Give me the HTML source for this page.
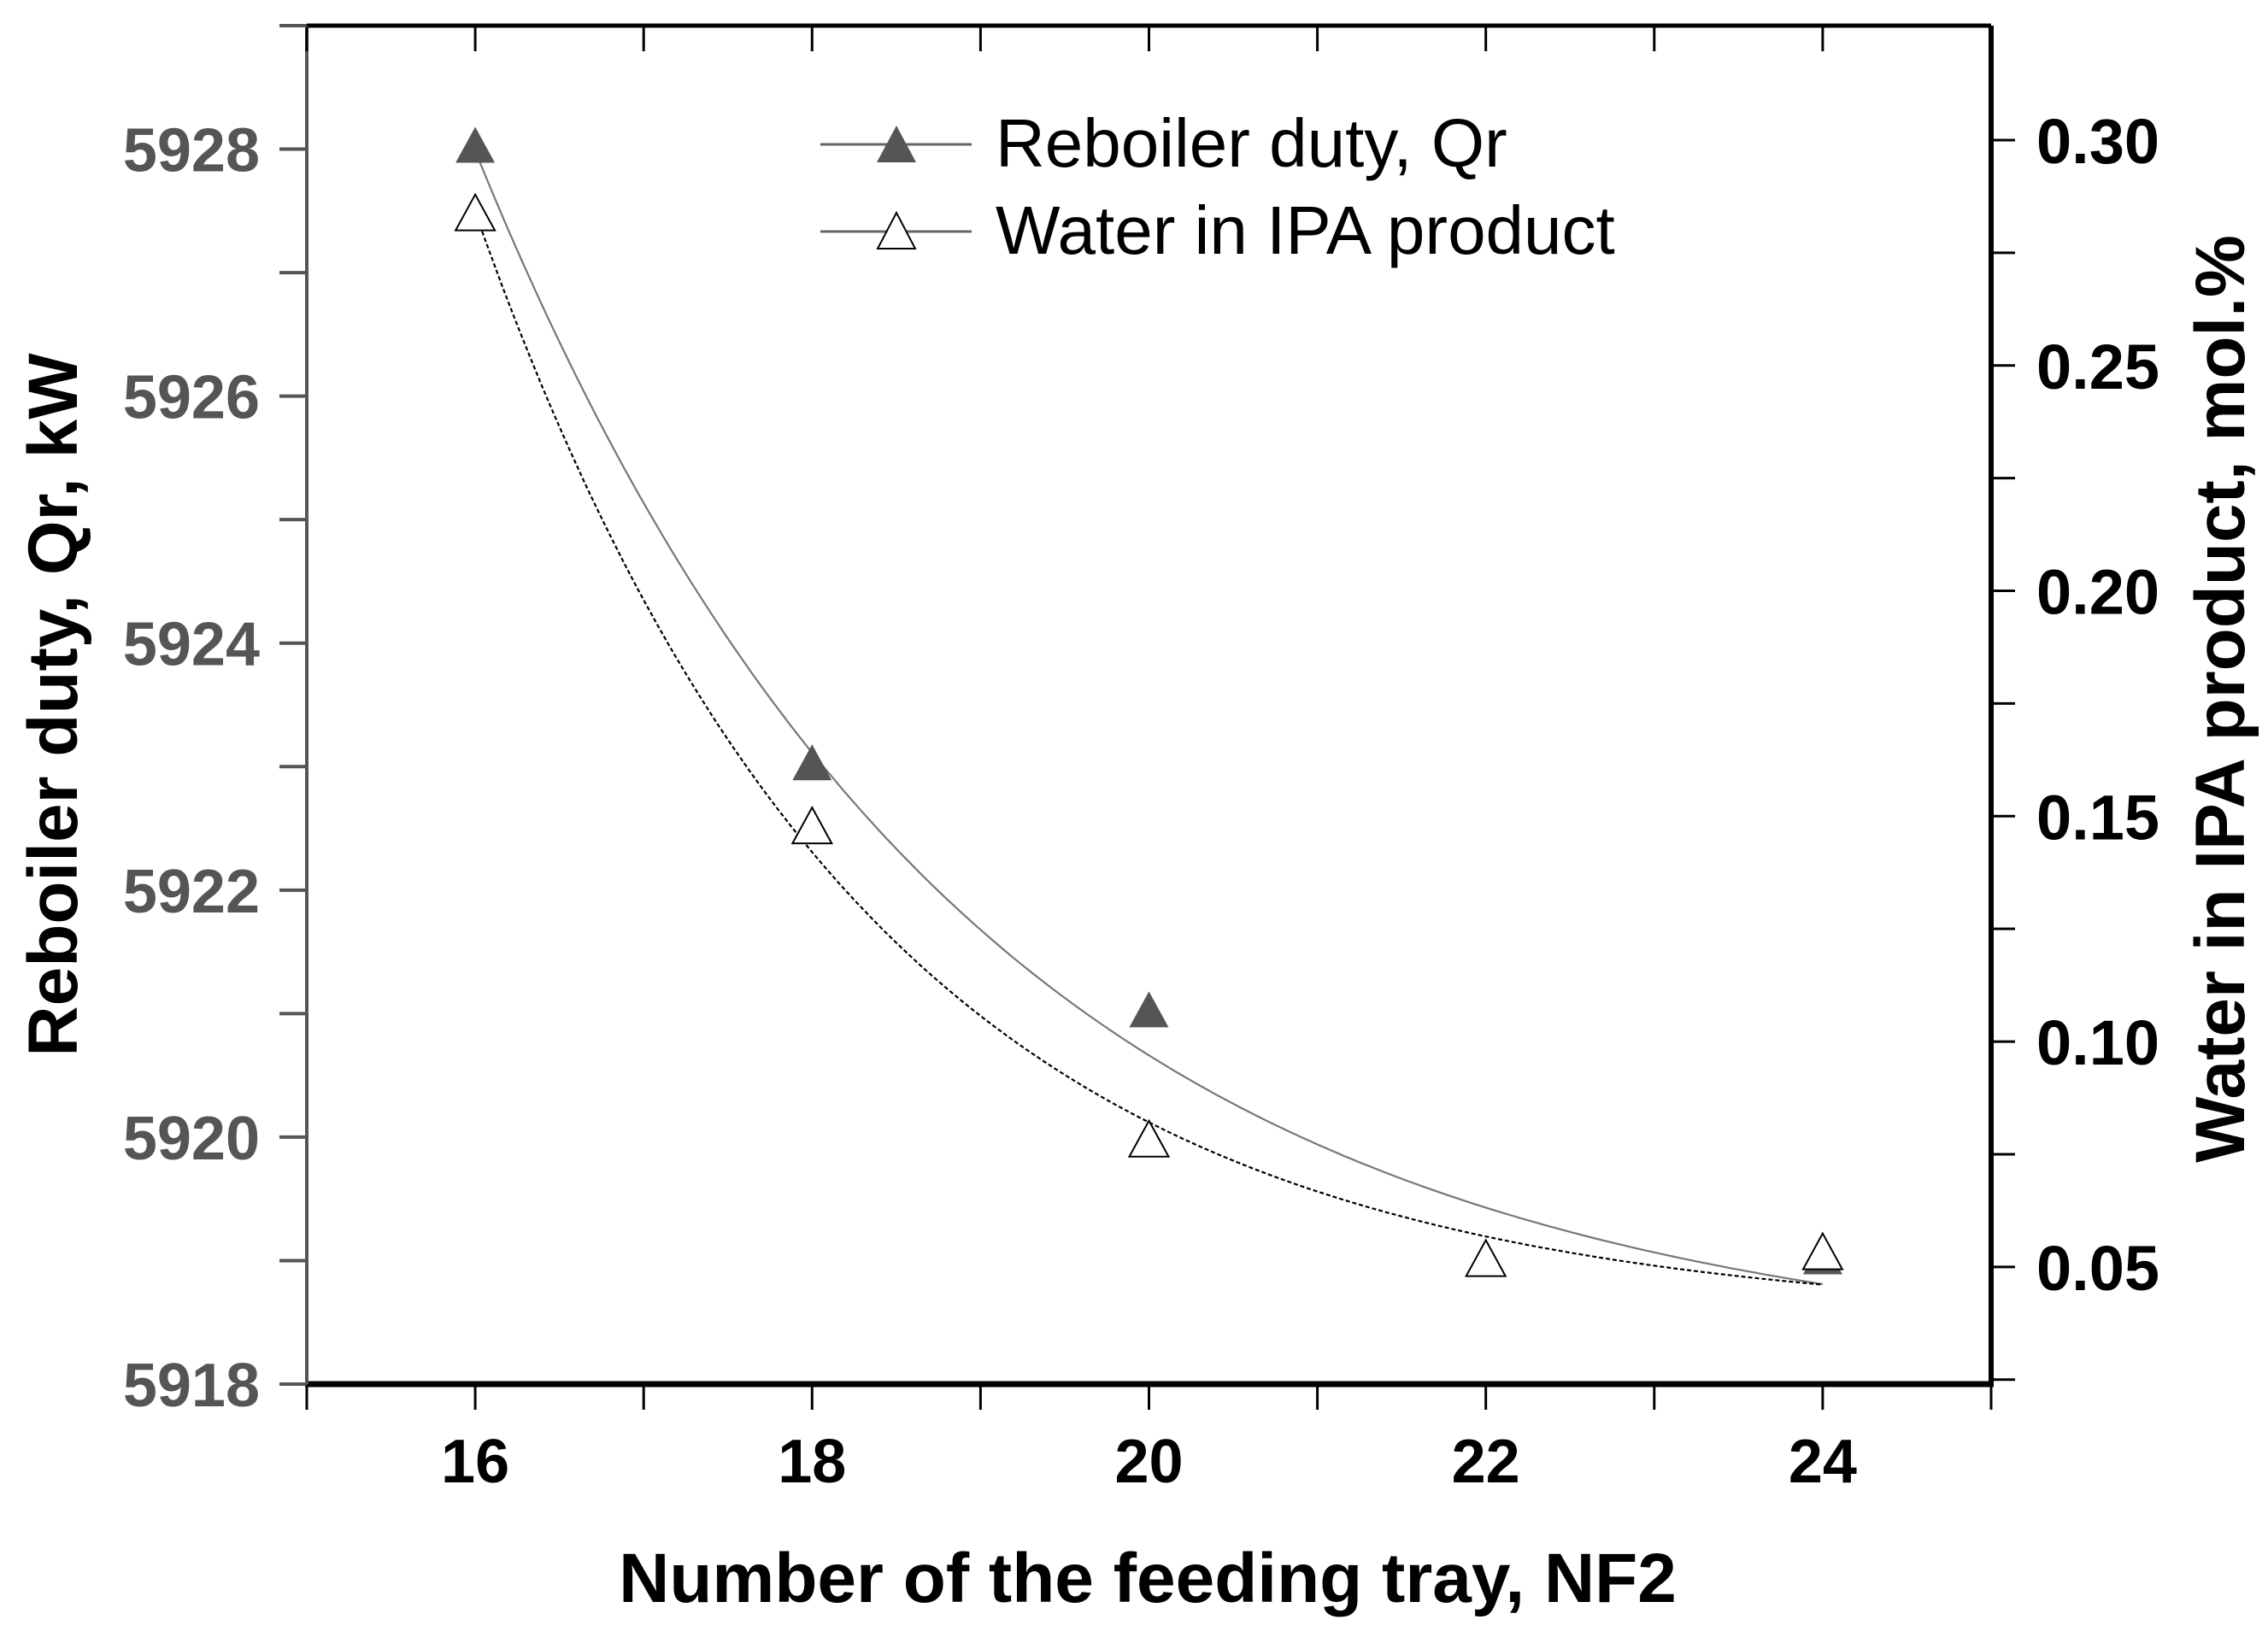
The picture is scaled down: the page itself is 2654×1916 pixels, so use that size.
<!DOCTYPE html>
<html><head><meta charset="utf-8"><style>
html,body{margin:0;padding:0;background:#fff;}
svg{display:block;font-family:"Liberation Sans",Arial,sans-serif;}
</style></head><body>
<svg id="chart" width="2654" height="1916" viewBox="0 0 2654 1916" xmlns="http://www.w3.org/2000/svg">
<g id="axes"></g>
<g id="fits"></g>
<g id="marks"></g>
<g id="legend">
  <line x1="960" y1="169" x2="1137" y2="169" stroke="#666" stroke-width="3"/>
  <polygon points="1049,147 1026,190 1072,190" fill="#555"/>
  <text x="1165" y="195" font-size="80" fill="#000">Reboiler duty, Qr</text>
  <line x1="960" y1="271" x2="1137" y2="271" stroke="#666" stroke-width="3"/>
  <polygon points="1049,249 1027,291 1071,291" fill="#fff" stroke="#000" stroke-width="2"/>
  <text x="1165" y="297" font-size="80" fill="#000">Water in IPA product</text>
</g>
<text x="0" y="0" transform="translate(90,825) rotate(-90)" text-anchor="middle" font-size="82" font-weight="bold" fill="#000">Reboiler duty, Qr, kW</text>
<text x="0" y="0" transform="translate(2626,818) rotate(-90)" text-anchor="middle" font-size="82" font-weight="bold" fill="#000">Water in IPA product, mol.%</text>
<text x="1343" y="1875" text-anchor="middle" font-size="82" font-weight="bold" fill="#000">Number of the feeding tray, NF2</text>
</svg>
<script>
const trays = [16, 18, 20, 22, 24];
const reboilerDuty = [5928, 5923, 5921, 5919, 5919];
const waterContent = [0.283, 0.147, 0.0775, 0.051, 0.0525];
const xTickLabels = ["16", "18", "20", "22", "24"];
const leftTickLabels = ["5918", "5920", "5922", "5924", "5926", "5928"];
const rightTickLabels = ["0.05", "0.10", "0.15", "0.20", "0.25", "0.30"];

const NS = "http://www.w3.org/2000/svg";
const L = 359, R = 2330, T = 30, B = 1620;
const xMin = 15, xMax = 25, yLMin = 5918, yLMax = 5929, yRMin = 0.024, yRMax = 0.3254;
const sx = v => L + (v - xMin) / (xMax - xMin) * (R - L);
const syL = v => B - (v - yLMin) / (yLMax - yLMin) * (B - T);
const syR = v => B - (v - yRMin) / (yRMax - yRMin) * (B - T);
function mk(tag, attrs, parent, txt) {
  const e = document.createElementNS(NS, tag);
  for (const k in attrs) e.setAttribute(k, attrs[k]);
  if (txt !== undefined) e.textContent = txt;
  parent.appendChild(e);
  return e;
}
const axes = document.getElementById('axes');
let e;
e = mk('line', {x1: L, y1: T, x2: R, y2: T, stroke: '#000', 'stroke-width': 5}, axes);
 
e = mk('line', {x1: L - 2, y1: B, x2: R + 3, y2: B, stroke: '#000', 'stroke-width': 7}, axes);
 
e = mk('line', {x1: L, y1: T, x2: L, y2: B, stroke: '#555', 'stroke-width': 4}, axes);
 
e = mk('line', {x1: R, y1: T, x2: R, y2: B + 3, stroke: '#000', 'stroke-width': 6}, axes);
 
for (let v = xMin; v <= xMax; v++) {
  e = mk('line', {x1: sx(v), y1: B, x2: sx(v), y2: B + 30, stroke: '#000', 'stroke-width': 3}, axes);
   
  e = mk('line', {x1: sx(v), y1: T, x2: sx(v), y2: T + 30, stroke: '#000', 'stroke-width': 3}, axes);
   
}
xTickLabels.forEach(t => {
  e = mk('text', {x: sx(+t), y: 1735, 'text-anchor': 'middle', 'font-size': 72, 'font-weight': 'bold', fill: '#000'}, axes, t);
   
});
for (let v = yLMin; v <= yLMax; v++) {
  e = mk('line', {x1: L - 32, y1: syL(v), x2: L, y2: syL(v), stroke: '#555', 'stroke-width': 4}, axes);
   
}
leftTickLabels.forEach(t => {
  e = mk('text', {x: 304, y: syL(+t) + 26, 'text-anchor': 'end', 'font-size': 72, 'font-weight': 'bold', fill: '#555'}, axes, t);
   
});
for (let i = 1; i <= 12; i++) {
  const v = 0.025 * i;
  e = mk('line', {x1: R, y1: syR(v), x2: R + 28, y2: syR(v), stroke: '#000', 'stroke-width': 3}, axes);
   
}
rightTickLabels.forEach(t => {
  e = mk('text', {x: 2383, y: syR(+t) + 27, 'font-size': 74, 'font-weight': 'bold', fill: '#000'}, axes, t);
   
});
// exponential decay fit y = y0 + A*exp(-(x-x0)/t)
function expFit(xs, ys) {
  let best = null;
  const x0 = xs[0];
  for (let t = 0.3; t <= 20; t += 0.01) {
    const g = xs.map(x => Math.exp(-(x - x0) / t));
    const n = xs.length;
    let sg = 0, sgg = 0, sy = 0, sgy = 0;
    for (let i = 0; i < n; i++) { sg += g[i]; sgg += g[i] * g[i]; sy += ys[i]; sgy += g[i] * ys[i]; }
    const A = (n * sgy - sg * sy) / (n * sgg - sg * sg);
    const y0 = (sy - A * sg) / n;
    let err = 0;
    for (let i = 0; i < n; i++) { const d = y0 + A * g[i] - ys[i]; err += d * d; }
    if (!best || err < best.err) best = {err, A, y0, t};
  }
  return x => best.y0 + best.A * Math.exp(-(x - x0) / best.t);
}
const fits = document.getElementById('fits');
const fq = expFit(trays, reboilerDuty), fw = expFit(trays, waterContent);
let dq = '', dw = '';
for (let i = 0; i <= 200; i++) {
  const x = trays[0] + (trays[trays.length - 1] - trays[0]) * i / 200;
  dq += (i ? 'L' : 'M') + sx(x).toFixed(1) + ',' + syL(fq(x)).toFixed(1);
  dw += (i ? 'L' : 'M') + sx(x).toFixed(1) + ',' + syR(fw(x)).toFixed(1);
}
e = mk('path', {d: dq, fill: 'none', stroke: '#777', 'stroke-width': 2.2}, fits);
 
e = mk('path', {d: dw, fill: 'none', stroke: '#000', 'stroke-width': 2.2, 'stroke-dasharray': '5,3'}, fits);
 
const marks = document.getElementById('marks');
function tri(cx, cy) { return (cx) + ',' + (cy - 26) + ' ' + (cx - 23) + ',' + (cy + 16) + ' ' + (cx + 23) + ',' + (cy + 16); }
trays.forEach((t, i) => {
  e = mk('polygon', {points: tri(sx(t), syL(reboilerDuty[i])), fill: '#555'}, marks);
   
});
trays.forEach((t, i) => {
  e = mk('polygon', {points: tri(sx(t), syR(waterContent[i])), fill: '#fff', stroke: '#000', 'stroke-width': 2}, marks);
   
});
</script>
</body></html>
